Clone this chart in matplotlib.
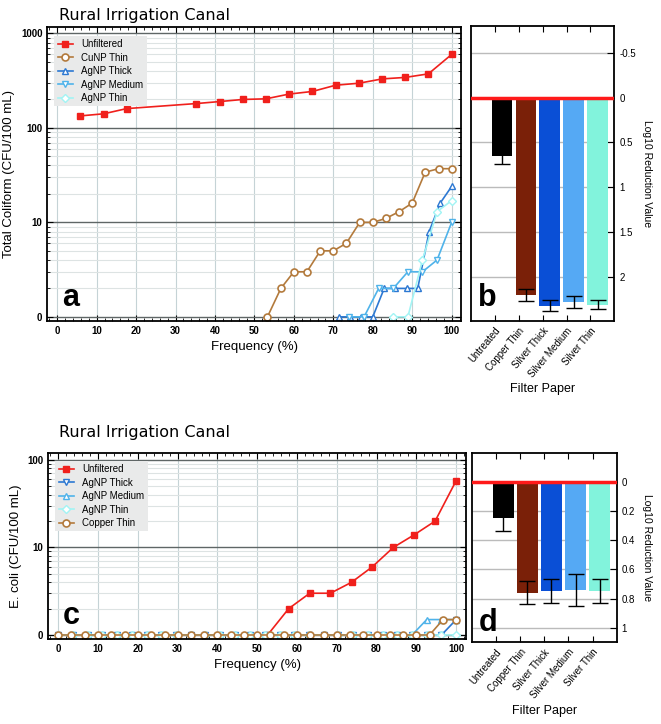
import numpy as np
import matplotlib
matplotlib.use("Agg")
import matplotlib.pyplot as plt
from matplotlib.ticker import FixedLocator, MultipleLocator, NullFormatter

plt.rcParams['font.family'] = ['Liberation Sans', 'DejaVu Sans']

# ---- panel a: total coliform, frequency curves (0 counts drawn on the "0" line)
a_unf_x = [5.9, 11.8, 17.6, 35.3, 41.2, 47.1, 52.9, 58.8, 64.7, 70.6, 76.5, 82.4, 88.2, 94.1, 100]
a_unf_y = [134, 141, 160, 181, 190, 200, 203, 228, 243, 283, 297, 330, 342, 373, 599]
a_cu_x = [53.3, 56.7, 60.0, 63.3, 66.7, 70.0, 73.3, 76.7, 80.0, 83.3, 86.7, 90.0, 93.3, 96.7, 100]
a_cu_y = [0, 2, 3, 3, 5, 5, 6, 10, 10, 11, 13, 16, 34, 37, 37]
a_thick_x = [71.4, 74.3, 77.1, 80.0, 82.9, 85.7, 88.6, 91.4, 94.3, 97.1, 100]
a_thick_y = [0, 0, 0, 0, 2, 2, 2, 2, 8, 16, 24]
a_med_x = [74.1, 77.8, 81.5, 85.2, 88.9, 92.6, 96.3, 100]
a_med_y = [0, 0, 2, 2, 3, 3, 4, 10]
a_thin_x = [85.2, 88.9, 92.6, 96.3, 100]
a_thin_y = [0, 0, 4, 13, 17]

# ---- panel c: E. coli
c_unf_x = [52.6, 57.9, 63.2, 68.4, 73.7, 78.9, 84.2, 89.5, 94.7, 100]
c_unf_y = [0, 2, 3, 3, 4, 6, 10, 14, 20, 58]
c_x27 = [0, 3.7, 7.4, 11.1, 14.8, 18.5, 22.2, 25.9, 29.6, 33.3, 37.0, 40.7, 44.4, 48.1,
         51.9, 55.6, 59.3, 63.0, 66.7, 70.4, 74.1, 77.8, 81.5, 85.2, 88.9, 92.6, 96.3, 100]
c_thick_y = [0] * 27 + [1.5]
c_med_y = [0] * 25 + [1.5, 1.5, 1.5]
c_thin_y = [0] * 28
c_cu_x = [0, 3.3, 6.7, 10, 13.3, 16.7, 20, 23.3, 26.7, 30, 33.3, 36.7, 40, 43.3, 46.7, 50,
          53.3, 56.7, 60, 63.3, 66.7, 70, 73.3, 76.7, 80, 83.3, 86.7, 90, 93.3, 96.7, 100]
c_cu_y = [0] * 29 + [1.5, 1.5]

# ---- bar panels (log10 reduction)
filters = ["Untreated", "Copper Thin", "Silver Thick", "Silver Medium", "Silver Thin"]
b_lrv = [0.65, 2.20, 2.32, 2.28, 2.31]
b_err = [0.085, 0.065, 0.06, 0.065, 0.05]
d_lrv = [0.25, 0.76, 0.75, 0.74, 0.75]
d_err = [0.09, 0.08, 0.083, 0.108, 0.083]

bar_colors = ["#000000", "#7a2008", "#0a4fd6", "#55a9f4", "#82f3dc"]
c_unf, c_cu, c_thick, c_med, c_thin = "#f0201c", "#b37a3c", "#2c78d2", "#4fb3ea", "#a2f4f4"

fig = plt.figure(figsize=(6.61, 7.24), dpi=100)


def zero_ok(v):
    return np.clip(np.asarray(v, dtype=float), 1, None)


def style_line_axes(ax, ylim, ticks, labels):
    ax.set_yscale('log')
    ax.set_xlim(-2.5, 102.4)
    ax.set_ylim(*ylim)
    ax.yaxis.set_major_locator(FixedLocator(ticks))
    ax.set_yticklabels(labels)
    ax.yaxis.set_minor_formatter(NullFormatter())
    ax.xaxis.set_major_locator(MultipleLocator(10))
    ax.xaxis.set_minor_locator(MultipleLocator(2))
    ax.grid(True, which='major', axis='y', color='#5f6666', lw=1.0)
    ax.grid(True, which='minor', axis='y', color='#dde3e3', lw=0.8)
    ax.grid(True, which='major', axis='x', color='#c5d3d6', lw=0.8)
    ax.tick_params(which='both', direction='in', top=True, right=True, labelsize=7)
    ax.tick_params(which='major', length=4)
    ax.tick_params(which='minor', length=2)
    for lab in ax.get_xticklabels() + ax.get_yticklabels():
        lab.set_fontweight('bold')
    for s in ax.spines.values():
        s.set_linewidth(1.3)
    ax.set_xlabel("Frequency (%)", fontsize=9.5)


def style_bar_axes(ax, ylim, ticks, labels):
    ax.set_xlim(0, 6)
    ax.set_ylim(*ylim)
    ax.yaxis.tick_right()
    ax.yaxis.set_label_position('right')
    ax.set_yticks(ticks)
    ax.set_yticklabels(labels, fontsize=7)
    ax.set_xticks(range(1, 6))
    ax.set_xticklabels(filters, rotation=50, ha='right', rotation_mode='anchor', fontsize=7)
    ax.tick_params(axis='x', direction='in', top=True, length=4)
    ax.tick_params(axis='y', direction='in', length=5)
    ax.grid(True, axis='y', color='#bbbbbb', lw=1.0)
    ax.set_axisbelow(True)
    ax.axhline(0, color='#ff1a1a', lw=2.5, zorder=5)
    ax.set_ylabel("Log10 Reduction Value", rotation=-90, labelpad=12, fontsize=7.5)
    ax.set_xlabel("Filter Paper", fontsize=9, labelpad=3)
    for s in ax.spines.values():
        s.set_linewidth(1.3)


def style_legend(ax):
    leg = ax.legend(loc='upper left', fontsize=7, frameon=True, fancybox=False,
                    handlelength=1.6, borderpad=0.35, labelspacing=0.35,
                    bbox_to_anchor=(0.005, 0.985))
    leg.get_frame().set_facecolor('#e9eaea')
    leg.get_frame().set_edgecolor('none')
    leg.get_frame().set_alpha(1)


# panel a
ax_a = fig.add_axes([0.0716, 0.557, 0.626, 0.406])
ax_a.plot(a_unf_x, zero_ok(a_unf_y), '-s', color=c_unf, ms=5, lw=1.2, label="Unfiltered", zorder=4)
ax_a.plot(a_cu_x, zero_ok(a_cu_y), '-o', color=c_cu, mfc='white', mew=1.2, ms=5, lw=1.2, label="CuNP Thin")
ax_a.plot(a_thick_x, zero_ok(a_thick_y), '-^', color=c_thick, mfc='white', mew=1.0, ms=5, lw=1.2, label="AgNP Thick")
ax_a.plot(a_med_x, zero_ok(a_med_y), '-v', color=c_med, mfc='white', mew=1.0, ms=5, lw=1.2, label="AgNP Medium")
ax_a.plot(a_thin_x, zero_ok(a_thin_y), '-D', color=c_thin, mfc='white', mew=1.0, ms=4, lw=1.2, label="AgNP Thin")
style_line_axes(ax_a, (0.91, 1175), [1, 10, 100, 1000], ["0", "10", "100", "1000"])
ax_a.set_ylabel("Total Coliform (CFU/100 mL)", fontsize=9.5)
style_legend(ax_a)
ax_a.text(0.035, 0.05, "a", transform=ax_a.transAxes, fontsize=22, fontweight='bold')
fig.text(0.09, 0.978, "Rural Irrigation Canal", fontsize=11.5, family='DejaVu Sans', va='center')

# panel b
ax_b = fig.add_axes([0.7126, 0.557, 0.2168, 0.407])
pos = np.arange(1, 6) + 0.3
ax_b.bar(pos, b_lrv, width=0.87, color=bar_colors, zorder=2)
ax_b.errorbar(pos, b_lrv, yerr=b_err, fmt='none', ecolor='black', elinewidth=1.0, capsize=6, capthick=1.0, zorder=3)
style_bar_axes(ax_b, (2.49, -0.80), [-0.5, 0, 0.5, 1, 1.5, 2], ["-0.5", "0", "0.5", "1", "1.5", "2"])
ax_b.text(0.05, 0.05, "b", transform=ax_b.transAxes, fontsize=22, fontweight='bold', zorder=6)

# panel c
ax_c = fig.add_axes([0.0731, 0.1174, 0.6315, 0.2565])
ax_c.plot(c_unf_x, zero_ok(c_unf_y), '-s', color=c_unf, ms=5, lw=1.2, label="Unfiltered", zorder=2)
ax_c.plot(c_x27, zero_ok(c_thick_y), '-v', color=c_thick, mfc='white', mew=1.0, ms=5, lw=1.2, label="AgNP Thick")
ax_c.plot(c_x27, zero_ok(c_med_y), '-^', color=c_med, mfc='white', mew=1.0, ms=5, lw=1.2, label="AgNP Medium")
ax_c.plot(c_x27, zero_ok(c_thin_y), '-D', color=c_thin, mfc='white', mew=1.0, ms=4, lw=1.2, label="AgNP Thin")
ax_c.plot(c_cu_x, zero_ok(c_cu_y), '-o', color=c_cu, mfc='white', mew=1.2, ms=5, lw=1.2, label="Copper Thin")
style_line_axes(ax_c, (0.9, 119), [1, 10, 100], ["0", "10", "100"])
ax_c.set_ylabel("E. coli (CFU/100 mL)", fontsize=9.5)
style_legend(ax_c)
ax_c.text(0.035, 0.08, "c", transform=ax_c.transAxes, fontsize=22, fontweight='bold')
fig.text(0.09, 0.402, "Rural Irrigation Canal", fontsize=11.5, family='DejaVu Sans', va='center')

# panel d
ax_d = fig.add_axes([0.7136, 0.1128, 0.2194, 0.2619])
ax_d.bar(pos, d_lrv, width=0.87, color=bar_colors, zorder=2)
ax_d.errorbar(pos, d_lrv, yerr=d_err, fmt='none', ecolor='black', elinewidth=1.0, capsize=6, capthick=1.0, zorder=3)
style_bar_axes(ax_d, (1.10, -0.20), [0, 0.2, 0.4, 0.6, 0.8, 1], ["0", "0.2", "0.4", "0.6", "0.8", "1"])
ax_d.text(0.05, 0.06, "d", transform=ax_d.transAxes, fontsize=22, fontweight='bold', zorder=6)

fig.savefig("out.png", dpi=100)
